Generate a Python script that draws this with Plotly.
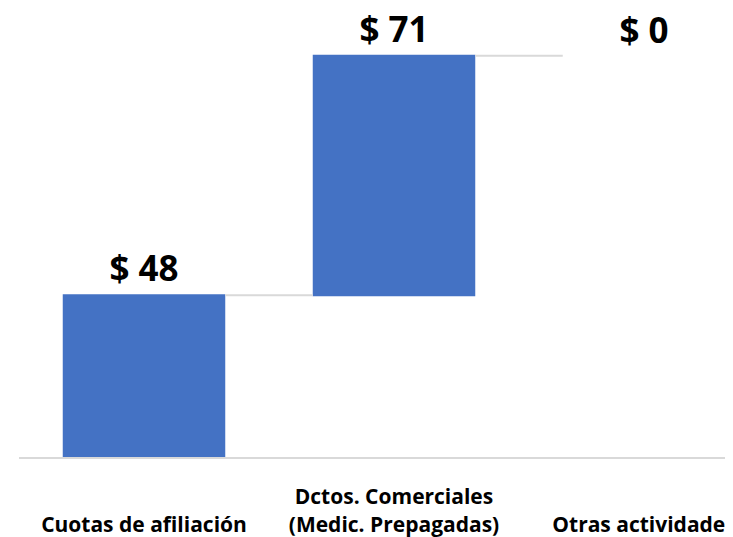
import plotly.graph_objects as go

# data
categories = ["Cuotas de afiliación", "Dctos. Comerciales<br>(Medic. Prepagadas)", "Otras actividades"]
tick_labels = ["<br>Cuotas de afiliación", "Dctos. Comerciales<br>(Medic. Prepagadas)", "<br>Otras actividades"]
values = [48, 71, 0]
measures = ["relative", "relative", "relative"]
value_labels = ["$ 48", "$ 71", "$ 0"]

fig = go.Figure(
    go.Waterfall(
        x=categories,
        y=values,
        measure=measures,
        text=value_labels,
        textposition="outside",
        textfont=dict(family="Open Sans", size=35, color="black", weight="bold"),
        increasing=dict(marker=dict(color="#4472c4")),
        decreasing=dict(marker=dict(color="#4472c4")),
        totals=dict(marker=dict(color="#4472c4")),
        connector=dict(line=dict(color="#d9d9d9", width=2)),
        width=0.65,
        cliponaxis=False,
    )
)

# page body has an 8px margin, so the figure is shifted; size and margins compensate
fig.update_layout(
    width=725,
    height=529,
    margin=dict(l=11, r=0, t=0, b=80, autoexpand=False),
    paper_bgcolor="white",
    plot_bgcolor="white",
    showlegend=False,
    xaxis=dict(
        range=[-0.5, 2.356],
        tickvals=categories,
        ticktext=tick_labels,
        tickfont=dict(family="Open Sans", size=21, color="black", weight="bold"),
        showline=True,
        linecolor="#d9d9d9",
        linewidth=2,
        showgrid=False,
        ticks="",
        ticklabelstandoff=20,
        automargin=False,
    ),
    yaxis=dict(
        range=[0, 133.2],
        visible=False,
        showgrid=False,
        zeroline=False,
        automargin=False,
    ),
)

fig.write_html("out.html")
